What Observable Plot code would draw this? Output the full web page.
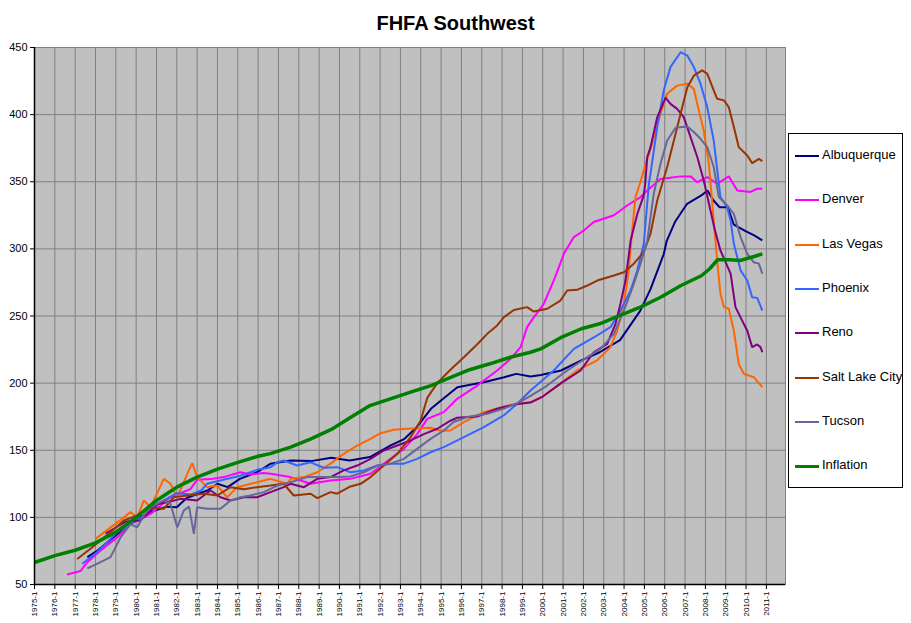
<!DOCTYPE html>
<html>
<head>
<meta charset="utf-8">
<script src="https://cdn.jsdelivr.net/npm/d3@7"></script>
<script src="https://cdn.jsdelivr.net/npm/@observablehq/plot@0.6"></script>
<style>
  html, body { margin: 0; padding: 0; background: #fff; }
  #wrap { position: relative; width: 911px; height: 623px; font-family: Arial, "Liberation Sans", sans-serif; }
  #title { height: 38px; line-height: 46px; text-align: center; font-weight: bold; font-size: 20px; color: #000; }
  #legend { position: absolute; left: 788px; top: 133px; width: 115px; height: 355px; border: 1px solid #000; background: #fff; box-sizing: border-box; }
  .item { position: absolute; left: 0; height: 16px; font-size: 13px; color: #000; white-space: nowrap; }
  .swatch { position: absolute; left: 6px; top: 7px; width: 24px; }
  .label { position: absolute; left: 33px; top: -1px; }
</style>
</head>
<body>
<div id="wrap">
  <div id="title">FHFA Southwest</div>
  <div id="chart"></div>
  <div id="legend"></div>
</div>
<script>
// Series names and colours
const seriesNames = ["Albuquerque", "Denver", "Las Vegas", "Phoenix", "Reno", "Salt Lake City", "Tucson", "Inflation"];
const seriesColors = ["#000080", "#FF00FF", "#FF6600", "#3366FF", "#800080", "#993300", "#666699", "#008000"];

// Category axis: year labels "YYYY-1"
const yearTicks = d3.range(1975, 2012);
const yTicks = [50, 100, 150, 200, 250, 300, 350, 400, 450];

// Values: [year (decimal), index]
const albuquerque = [[1977.6,70.4],[1978.1,75.3],[1979.1,87.8],[1979.7,96.4],[1980.7,103.9],[1981.5,108],[1982.0,107.6],[1982.5,114.6],[1983.5,120],[1984.0,125],[1984.5,122.5],[1985.1,128.7],[1985.95,133.6],[1986.6,139.9],[1987.6,142.4],[1988.6,141.9],[1989.6,144.4],[1990.5,142.4],[1991.5,144.9],[1992.5,153.5],[1993.2,158.5],[1993.8,167.2],[1994.5,180.9],[1995.1,188.3],[1995.8,197],[1996.5,199],[1997.1,200.7],[1998.1,204.4],[1998.7,206.9],[1999.4,205],[1999.9,206],[2000.9,209.4],[2001.9,216.9],[2002.8,223],[2003.8,232],[2004.8,254],[2005.3,270],[2005.95,296],[2006.1,306],[2006.5,320],[2007.1,333.6],[2007.8,339.8],[2008.1,343.5],[2008.4,336],[2008.7,331],[2009.1,331],[2009.4,318],[2010.0,313],[2010.4,310],[2010.8,306.3]];
const denver = [[1976.6,57.4],[1977.26,60],[1977.6,66.6],[1978.25,75.3],[1979.07,85],[1979.72,95],[1980.71,102.6],[1981.69,115],[1982.67,121],[1983.0,128],[1983.66,128.5],[1984.3,130],[1985.13,133.6],[1985.62,132],[1986.28,133],[1986.61,132.5],[1987.59,130],[1988.58,125],[1989.56,127.5],[1990.54,128.7],[1991.53,132.5],[1992.18,139.9],[1993.17,151],[1993.82,162],[1994.32,173.4],[1995.13,178.4],[1995.79,188.3],[1996.78,198.2],[1997.76,209.4],[1998.41,218],[1998.91,226.8],[1999.23,241.7],[1999.56,249],[2000.05,259],[2000.54,276.4],[2001.04,296.3],[2001.53,308.8],[2002.02,313.7],[2002.51,320],[2003.5,325],[2004.15,332.3],[2004.81,338.6],[2005.14,343.5],[2005.79,352],[2006.78,354],[2007.27,354],[2007.6,349.7],[2008.09,353.5],[2008.58,348.5],[2009.15,354],[2009.57,343.5],[2010.22,342.4],[2010.55,344.8],[2010.8,344.8]];
const lasVegas = [[1978.0,84],[1978.7,92],[1979.4,100],[1979.72,104],[1980.05,100],[1980.38,112.6],[1980.71,107.6],[1981.36,128.7],[1981.69,125],[1982.02,115],[1982.59,135],[1982.76,140.4],[1983.0,130],[1983.49,122.5],[1983.99,123.7],[1984.48,115],[1984.97,122.5],[1985.95,126.2],[1986.61,128.7],[1987.43,125],[1987.6,128.7],[1988.25,130],[1988.91,133.6],[1989.56,140],[1990.21,147.3],[1990.87,153.5],[1991.53,158.5],[1992.02,162.7],[1992.67,165.2],[1993.33,166],[1993.99,166.4],[1994.48,166.7],[1994.97,164.5],[1995.46,164.7],[1996.12,171],[1997.1,178.4],[1998.08,182.6],[1998.74,184.6],[1999.4,186],[2000.0,190],[2000.9,200],[2001.69,209.4],[2002.68,217],[2003.33,226.8],[2003.66,239],[2003.99,259],[2004.23,284],[2004.4,313.7],[2004.56,338.6],[2004.81,350],[2005.05,363],[2005.3,374],[2005.46,383.2],[2005.79,400.6],[2006.12,415.5],[2006.61,421.6],[2007.11,423],[2007.43,419.2],[2007.6,408],[2007.92,388],[2008.17,363.3],[2008.41,321],[2008.58,291.3],[2008.74,266.5],[2008.91,256.6],[2009.15,255.4],[2009.4,239],[2009.64,214.3],[2009.89,207],[2010.38,204.4],[2010.8,197]];
const phoenix = [[1977.35,65.4],[1978.08,74],[1979.07,89],[1979.72,95],[1980.38,101.4],[1981.36,112.6],[1982.0,118],[1982.7,117],[1983.2,120],[1983.49,125],[1984.48,128.7],[1985.13,131],[1985.95,135.4],[1986.61,137.4],[1986.94,141],[1987.26,142.4],[1987.92,138.6],[1988.58,141],[1989.23,137],[1989.89,137.4],[1990.54,133.6],[1991.2,135],[1991.86,138.6],[1992.51,140],[1993.17,140],[1993.82,143.6],[1994.48,148.5],[1995.13,152.3],[1996.12,159.7],[1997.1,167.2],[1998.08,175.9],[1998.74,184.6],[1999.4,194.5],[2000.54,209.4],[2001.53,225.5],[2002.51,234],[2003.33,241.7],[2003.82,254],[2004.32,269],[2004.65,284],[2004.97,303.8],[2005.22,348.5],[2005.3,356],[2005.63,390.7],[2005.95,418],[2006.28,435.4],[2006.78,446.5],[2007.11,444],[2007.43,435.4],[2007.76,423],[2008.09,405.6],[2008.41,380.7],[2008.74,338.6],[2009.07,331],[2009.24,321],[2009.4,303.8],[2009.73,284],[2010.06,276.4],[2010.3,264],[2010.55,263.5],[2010.8,254]];
const reno = [[1978.5,88],[1979.5,97],[1980.21,97.7],[1981.04,110],[1981.53,111.3],[1982.18,113.8],[1983.0,112.6],[1983.66,120],[1984.15,115],[1984.64,112.6],[1985.3,115],[1985.95,115],[1986.61,118.8],[1987.26,122.5],[1987.59,125],[1988.25,122.5],[1988.91,128.7],[1989.56,130],[1990.21,135],[1990.87,138.6],[1991.53,143.6],[1992.18,149.8],[1992.84,153.5],[1993.5,157.3],[1994.15,162],[1994.81,166],[1995.46,172],[1995.79,174.2],[1996.78,175.1],[1997.76,180.9],[1998.58,184],[1999.4,185.5],[2000.0,190],[2000.9,200],[2001.86,209.4],[2002.51,223],[2003.17,229.3],[2003.58,244.2],[2003.82,259],[2004.07,276.4],[2004.32,306],[2004.65,326],[2004.97,340],[2005.05,350],[2005.14,368.4],[2005.3,375.8],[2005.63,398],[2006.04,412.7],[2006.28,408],[2006.61,404.3],[2006.94,398],[2007.27,383.2],[2007.6,368.4],[2007.92,351],[2008.25,328.6],[2008.45,315],[2008.74,298.8],[2009.24,281.5],[2009.48,256.6],[2009.73,249],[2010.06,239],[2010.3,226.8],[2010.55,228.8],[2010.71,226.8],[2010.8,223]];
const saltLakeCity = [[1977.1,69],[1977.75,76.6],[1978.74,89],[1979.39,97.7],[1980.05,101.4],[1980.71,107.6],[1981.36,106.4],[1981.85,115],[1982.51,116.3],[1983.33,117.6],[1983.99,116.3],[1984.64,122.5],[1985.3,121],[1985.95,122.5],[1986.61,123.7],[1987.26,125],[1987.75,116.3],[1988.58,117.6],[1988.91,114.4],[1989.56,118.8],[1989.89,117.6],[1990.54,123],[1991.04,125],[1991.53,130],[1992.18,138.6],[1992.84,147.3],[1993.5,159.7],[1993.99,172],[1994.32,189],[1994.81,200],[1995.46,210],[1996.12,219.3],[1996.78,229],[1997.27,236.7],[1997.76,243],[1998.08,249],[1998.58,254.5],[1999.23,256.6],[1999.56,253.3],[2000.22,255.4],[2000.87,261.5],[2001.2,269],[2001.69,269.5],[2002.19,272.7],[2002.68,276.4],[2003.5,280.2],[2003.99,282.6],[2004.48,289],[2004.97,297.7],[2005.3,311.3],[2005.63,336],[2006.12,361],[2006.45,380.7],[2006.78,400.6],[2007.11,420.4],[2007.43,429],[2007.84,433],[2008.09,430.5],[2008.41,418],[2008.58,411.8],[2008.91,410.6],[2009.15,405.6],[2009.4,390.7],[2009.64,375.8],[2010.06,369.6],[2010.3,363.9],[2010.63,367.1],[2010.8,365.4]];
const tucson = [[1977.6,62],[1978.25,66.6],[1978.74,70.4],[1979.23,85],[1979.72,95],[1980.05,92.6],[1980.38,101.4],[1980.71,107.6],[1981.36,112.6],[1981.69,110],[1982.02,92.6],[1982.34,105],[1982.6,108],[1982.84,87.8],[1983.0,107.6],[1983.49,106.4],[1984.15,106.4],[1984.64,112.6],[1985.13,115],[1985.62,116.3],[1986.28,118.8],[1986.94,123.7],[1987.59,126.2],[1988.41,130],[1989.23,130],[1989.89,130],[1990.54,130.5],[1991.2,133.6],[1991.86,138.6],[1992.51,140],[1993.17,143.6],[1993.82,151],[1994.48,158.5],[1995.13,164.7],[1995.62,171],[1996.28,174.7],[1997.27,177.2],[1998.08,181],[1998.74,185],[1999.4,190.5],[2000.2,198],[2001.2,209.4],[2002.19,219.3],[2002.84,225.5],[2003.5,236.7],[2003.99,254],[2004.48,274],[2004.81,289],[2005.14,306],[2005.46,341],[2005.79,363.3],[2006.12,380.7],[2006.53,390.2],[2007.11,391.2],[2007.43,387],[2007.76,382],[2008.09,375.8],[2008.41,361],[2008.66,338.6],[2009.07,332.4],[2009.4,326],[2009.73,308.8],[2010.06,296.3],[2010.38,290],[2010.63,289],[2010.8,281.5]];
const inflation = [[1975.0,66.4],[1976.0,71.5],[1977.0,75.5],[1978.0,81],[1979.0,89],[1980.0,100],[1981.0,112.6],[1982.0,122.5],[1983.0,130],[1984.0,136],[1985.0,141],[1986.0,145.5],[1986.6,147.5],[1987.6,152.3],[1988.6,158.5],[1989.6,165.5],[1990.5,174],[1991.5,183.3],[1992.5,188.3],[1993.5,193.3],[1994.5,198.2],[1995.5,204.4],[1996.4,210],[1997.4,214.4],[1998.4,219.3],[1999.4,223],[1999.9,225.5],[2000.9,234],[2001.9,240.5],[2002.8,244.2],[2003.8,250.4],[2004.8,256.6],[2005.8,264],[2006.8,272.7],[2007.8,280],[2008.2,285],[2008.6,291.9],[2009.2,291.9],[2009.7,291.3],[2010.4,294.3],[2010.8,296.3]];

const seriesValues = [albuquerque, denver, lasVegas, phoenix, reno, saltLakeCity, tucson, inflation];

// Long table for the library
const rows = [];
seriesValues.forEach((vals, i) => {
  vals.forEach(([t, v]) => rows.push({series: seriesNames[i], t, v}));
});

const xDomain = [1975, 2011.94];
const yDomain = [50, 450];

const marks = [
  Plot.frame({fill: "#C0C0C0", stroke: "none"}),
  Plot.gridX(yearTicks.slice(1), {stroke: "#808080", strokeOpacity: 1, strokeWidth: 1}),
  Plot.gridY(yTicks.slice(1, -1), {stroke: "#808080", strokeOpacity: 1, strokeWidth: 1}),
  Plot.frame({stroke: "#808080", strokeWidth: 1})
];
seriesNames.forEach((name, i) => {
  marks.push(Plot.line(rows.filter(d => d.series === name), {
    x: "t", y: "v",
    stroke: seriesColors[i],
    strokeWidth: name === "Inflation" ? 3.5 : 2,
    strokeLinejoin: "miter", strokeLinecap: "butt"
  }));
});
marks.push(
  Plot.ruleX([xDomain[0]], {stroke: "#000", strokeWidth: 1.5}),
  Plot.ruleY([yDomain[0]], {stroke: "#000", strokeWidth: 1.5}),
  Plot.axisY({ticks: yTicks, tickSize: 4, tickPadding: 3, fontSize: 11, label: null, stroke: "#000"}),
  Plot.axisX({ticks: yearTicks, tickFormat: d => d + "-1", tickRotate: -90, tickSize: 5, tickPadding: 2, fontSize: 8, label: null})
);

const chart = Plot.plot({
  width: 911,
  height: 585,
  marginLeft: 34,
  marginRight: 126,
  marginTop: 9,
  marginBottom: 39,
  style: {fontFamily: "Arial, 'Liberation Sans', sans-serif", background: "white", color: "#000", overflow: "visible"},
  x: {domain: xDomain, label: null},
  y: {domain: yDomain, label: null},
  marks
});
document.getElementById("chart").appendChild(chart);

// Legend
const legend = document.getElementById("legend");
seriesNames.forEach((name, i) => {
  const item = document.createElement("div");
  item.className = "item";
  item.style.top = (14 + i * 44.3) + "px";
  const sw = document.createElement("div");
  sw.className = "swatch";
  const w = name === "Inflation" ? 3 : 2;
  sw.style.height = w + "px";
  sw.style.marginTop = (-(w - 2) / 2) + "px";
  sw.style.background = seriesColors[i];
  const lb = document.createElement("span");
  lb.className = "label";
  lb.textContent = name;
  item.appendChild(sw);
  item.appendChild(lb);
  legend.appendChild(item);
});
</script>
</body>
</html>
